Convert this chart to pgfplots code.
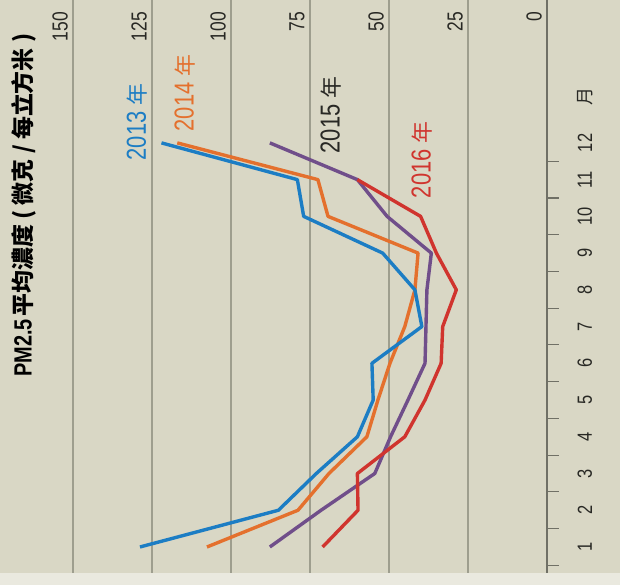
\documentclass[border=0pt]{standalone}
\usepackage{fontspec}
\setmainfont{Liberation Sans}
\newfontfamily\cjk{Noto Sans CJK TC}
\usepackage{graphicx}
\usepackage{pgfplots}
\pgfplotsset{compat=1.18}
\definecolor{bg}{RGB}{217,215,197}
\definecolor{gridc}{RGB}{158,158,142}
\definecolor{axisc}{RGB}{112,112,102}
\definecolor{c13}{RGB}{28,125,196}
\definecolor{c14}{RGB}{228,112,45}
\definecolor{c15}{RGB}{112,78,138}
\definecolor{c16}{RGB}{208,52,46}
\definecolor{txt}{RGB}{40,40,36}
\newcommand\st[1]{\scalebox{1}[1.25]{#1}}
\begin{document}
\begin{tikzpicture}
\begin{axis}[
  scale only axis, width=620bp, height=585bp,
  x dir=reverse, xmin=-23.1, xmax=173.1, ymin=-0.035, ymax=15.89,
  axis background/.style={fill=bg},
  axis line style={draw=none},
  tick style={draw=none},
  xtick={25,50,75,100,125,150}, ytick=\empty,
  xticklabels=\empty, major tick length=0pt,
  xmajorgrids,
  major grid style={draw=gridc, line width=1.4bp},
  clip=true,
]
\coordinate (ll) at (rel axis cs:0,0);
\coordinate (ur) at (rel axis cs:1,1);
% axis line and month ticks
\draw[axisc, line width=2bp] (axis cs:0,0.29) -- (axis cs:0,16.5);
\pgfplotsinvokeforeach{0.5,1.5,2.5,3.5,4.5,5.5,6.5,7.5,8.5,9.5,10.5,11.5}{
  \draw[axisc, line width=1.1bp] (axis cs:0,#1) -- (axis cs:-3.8,#1);
}
\fill[bg!55!white] (axis cs:173.1,-0.035) rectangle (axis cs:-23.1,0.29);

% 2015
\addplot[c15, line width=3.4bp, line join=round] coordinates {
 (87.7,1) (71.5,2) (54.5,3) (49.5,4) (44,5) (38.6,6) (38.3,7) (38,8) (36.6,9) (50.6,10) (60,11) (87.7,12)};
% 2014
\addplot[c14, line width=3.4bp, line join=round] coordinates {
 (107.6,1) (78.8,2) (69,3) (57,4) (53.5,5) (49.7,6) (45,7) (41.8,8) (40.8,9) (69.3,10) (72.5,11) (117,12)};
% 2013
\addplot[c13, line width=3.4bp, line join=round] coordinates {
 (128.8,1) (85,2) (73,3) (60,4) (55,5) (55.4,6) (39.6,7) (41.8,8) (52,9) (77,10) (79,11) (122,12)};
% 2016
\addplot[c16, line width=3.4bp, line join=round] coordinates {
 (71,1) (59.8,2) (60,3) (45,4) (38.6,5) (33.5,6) (33,7) (28.7,8) (35,9) (40,10) (60,11)};

% value labels
\foreach \v in {0,25,50,75,100,125,150}{
  \edef\temp{\noexpand\node[rotate=90, anchor=east, inner sep=0pt, text=txt, font=\noexpand\fontsize{17.5}{17.5}\noexpand\selectfont] at (axis cs:\v+4.1,15.57) {\noexpand\st{\v}};}
  \temp
}
% month labels
\foreach \m in {1,...,12}{
  \edef\temp{\noexpand\node[rotate=90, inner sep=0pt, text=txt, font=\noexpand\fontsize{16.5}{16.5}\noexpand\selectfont] at (axis cs:-12,\m) {\noexpand\st{\m}};}
  \temp
}
\node[rotate=90, inner sep=0pt, text=txt] at (axis cs:-12,13.25) {\cjk\fontsize{18}{18}\selectfont 月};

% series labels
\node[rotate=90, inner sep=0pt, text=c13, font=\fontsize{22}{22}\selectfont] at (axis cs:129.7,12.57) {\st{2013} {\cjk 年}};
\node[rotate=90, inner sep=0pt, text=c14, font=\fontsize{22}{22}\selectfont] at (axis cs:114.6,13.36) {\st{2014} {\cjk 年}};
\node[rotate=90, inner sep=0pt, text=txt, font=\fontsize{22}{22}\selectfont] at (axis cs:68.4,12.76) {\st{2015} {\cjk 年}};
\node[rotate=90, inner sep=0pt, text=c16, font=\fontsize{22}{22}\selectfont] at (axis cs:39.6,11.54) {\st{2016} {\cjk 年}};

% title
\node[rotate=90, anchor=west, inner sep=0pt, text=black] at (axis cs:165.5,5.63)
 {{\fontsize{20}{20}\selectfont\bfseries\st{PM2.5}} {\cjk\fontsize{23}{23}\selectfont\bfseries 平均濃度 ( 微克 / 每立方米 )}};
\end{axis}
\pgfresetboundingbox
\path[use as bounding box] (ll) rectangle (ur);
\end{tikzpicture}
\end{document}
